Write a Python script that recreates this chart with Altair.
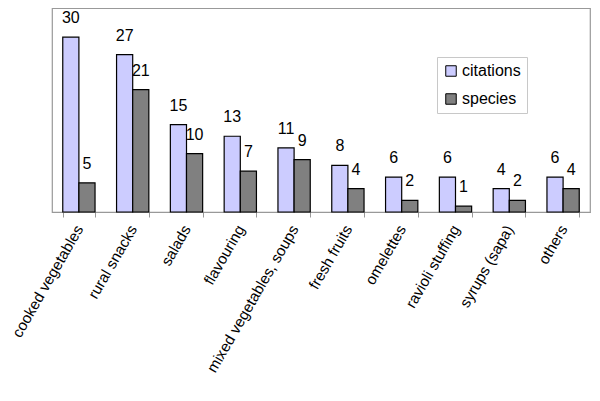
import altair as alt
import pandas as pd

categories = ["cooked vegetables", "rural snacks", "salads", "flavouring",
              "mixed vegetables, soups", "fresh fruits", "omelettes",
              "ravioli stuffing", "syrups (sapa)", "others"]
citations = [30, 27, 15, 13, 11, 8, 6, 6, 4, 6]
species = [5, 21, 10, 7, 9, 4, 2, 1, 2, 4]
series = ["citations", "species"]
colors = ["#CCCCFF", "#808080"]

rows = []
for c, a, b in zip(categories, citations, species):
    rows.append({"category": c, "series": "citations", "value": a})
    rows.append({"category": c, "series": "species", "value": b})
df = pd.DataFrame(rows)

FONT = "Liberation Sans"

base = alt.Chart(df).encode(
    x=alt.X("category:N", sort=categories,
            scale=alt.Scale(paddingInner=0.4, paddingOuter=0.2),
            axis=alt.Axis(title=None, labelAngle=300, labelFontSize=15.2, labelFont=FONT,
                          labelColor="black", tickBand="extent", domainColor="#999999",
                          tickColor="#999999", tickSize=5, labelPadding=9,
                          labelOverlap=False, labelLimit=300, grid=False)),
    xOffset=alt.XOffset("series:N", sort=series,
                        scale=alt.Scale(paddingInner=0, paddingOuter=0)),
    y=alt.Y("value:Q", scale=alt.Scale(domain=[0, 35]), axis=None),
)

bars = base.mark_bar(stroke="black", strokeWidth=1.2).encode(
    color=alt.Color("series:N", sort=series,
                    scale=alt.Scale(domain=series, range=colors),
                    legend=alt.Legend(title=None, orient="none", legendX=385, legendY=49,
                                      symbolType="square", symbolSize=110,
                                      symbolStrokeColor="black", symbolStrokeWidth=1,
                                      labelFontSize=16, labelFont=FONT, labelColor="black",
                                      strokeColor="#c8c8c8", fillColor="white",
                                      padding=6, rowPadding=12, labelOffset=3)),
)

labels = base.mark_text(font=FONT, fontSize=16, color="black", baseline="alphabetic",
                        align="center", dy=-14).encode(text="value:Q")

chart = alt.layer(bars, labels).properties(
    width=538, height=204,
    autosize=alt.AutoSizeParams(type="none"),
    padding={"left": 44, "top": 0, "right": 2, "bottom": 180},
).configure_view(stroke="#999999", strokeWidth=1.2)

chart.save("out.html", embed_options={"renderer": "svg", "actions": False})
